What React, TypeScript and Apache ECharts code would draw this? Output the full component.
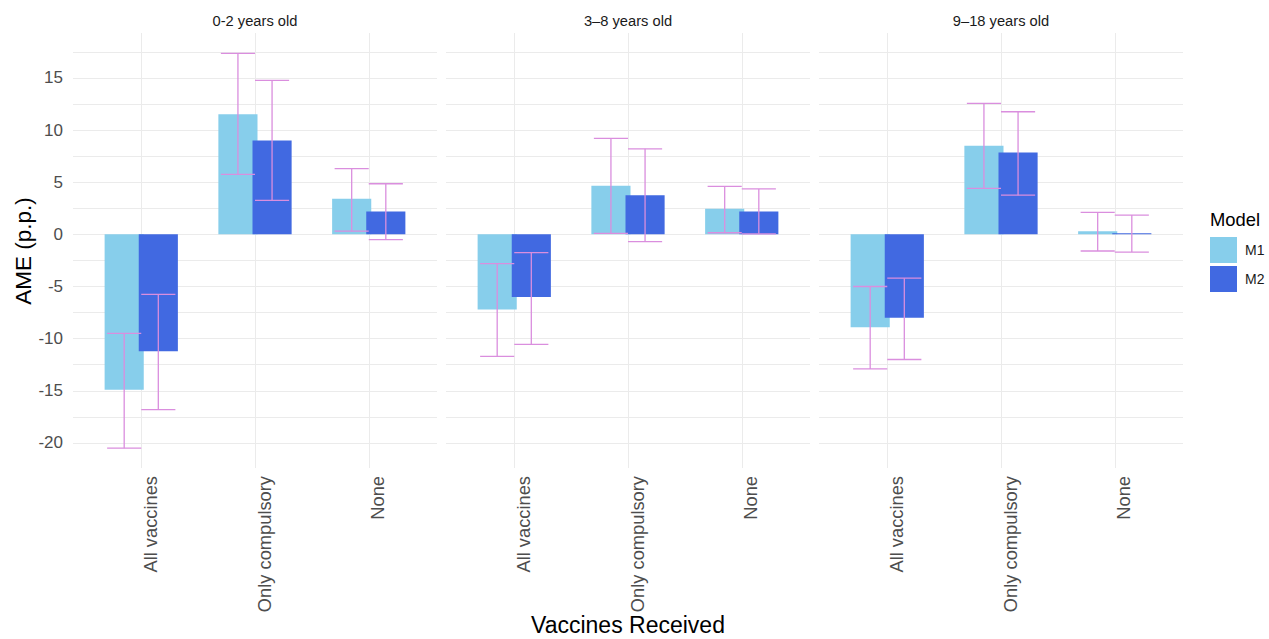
import React, { useEffect, useRef } from 'react';
import * as echarts from 'echarts';

const categories = ['All vaccines', 'Only compulsory', 'None'];
const ageGroups = ['0-2 years old', '3–8 years old', '9–18 years old'];
const models = ['M1', 'M2'];

// per age group: [All vaccines, Only compulsory, None]
const m1Values = [[-14.9, 11.5, 3.4], [-7.2, 4.65, 2.45], [-8.9, 8.5, 0.3]];
const m1Lower = [[-20.5, 5.75, 0.3], [-11.7, 0.1, 0.15], [-12.9, 4.4, -1.6]];
const m1Upper = [[-9.5, 17.35, 6.3], [-2.8, 9.2, 4.6], [-5.0, 12.55, 2.1]];
const m2Values = [[-11.2, 9.0, 2.2], [-6.0, 3.75, 2.2], [-8.0, 7.85, 0.1]];
const m2Lower = [[-16.8, 3.25, -0.5], [-10.55, -0.7, 0.05], [-12.0, 3.75, -1.7]];
const m2Upper = [[-5.75, 14.75, 4.85], [-1.75, 8.2, 4.35], [-4.2, 11.75, 1.85]];

const yLabelValues = [-20, -15, -10, -5, 0, 5, 10, 15];
const yGridValues = [-20, -17.5, -15, -12.5, -10, -7.5, -5, -2.5, 0, 2.5, 5, 7.5, 10, 12.5, 15, 17.5];
const xPositions = [0, 1, 2];

const Y_MIN = -22.4;
const Y_MAX = 19.3;

const COLORS = { M1: '#87CEEB', M2: '#4169E1', err: '#DA8EDE', grid: '#EBEBEB' };
const FONT = '"Liberation Sans", Arial, sans-serif';

const panelLefts = [73, 446, 819];
const PANEL_W = 364;
const PANEL_TOP = 33;
const PANEL_H = 435;

const BAR_HALF = 0.172;
const DODGE = 0.15;
const CAP_HALF = 0.15;

function barRender(offset: number, color: string) {
  return (params: any, api: any) => {
    const x = api.value(0);
    const v = api.value(1);
    const p0 = api.coord([x + offset - BAR_HALF, 0]);
    const p1 = api.coord([x + offset + BAR_HALF, v]);
    return {
      type: 'rect',
      shape: {
        x: p0[0],
        y: Math.min(p0[1], p1[1]),
        width: p1[0] - p0[0],
        height: Math.max(Math.abs(p1[1] - p0[1]), 1),
      },
      style: { fill: color },
    };
  };
}

function errRender(offset: number) {
  return (params: any, api: any) => {
    const x = api.value(0) + offset;
    const lo = api.coord([x, api.value(1)]);
    const hi = api.coord([x, api.value(2)]);
    const l = api.coord([x - CAP_HALF, 0])[0];
    const r = api.coord([x + CAP_HALF, 0])[0];
    const style = { stroke: COLORS.err, lineWidth: 1.3 };
    return {
      type: 'group',
      children: [
        { type: 'line', shape: { x1: lo[0], y1: lo[1], x2: hi[0], y2: hi[1] }, style },
        { type: 'line', shape: { x1: l, y1: lo[1], x2: r, y2: lo[1] }, style },
        { type: 'line', shape: { x1: l, y1: hi[1], x2: r, y2: hi[1] }, style },
      ],
    };
  };
}

export default function App() {
  const ref = useRef<HTMLDivElement>(null);

  useEffect(() => {
    if (!ref.current) return;
    const chart = echarts.init(ref.current, null, { renderer: 'svg' });

    const grids = panelLefts.map((left) => ({
      left,
      top: PANEL_TOP,
      width: PANEL_W,
      height: PANEL_H,
      containLabel: false,
    }));

    const xAxes = panelLefts.map((_, p) => ({
      type: 'value',
      gridIndex: p,
      min: -0.6,
      max: 2.6,
      axisLine: { show: false },
      axisTick: { show: false, customValues: xPositions },
      splitLine: { show: true, lineStyle: { color: COLORS.grid, width: 1 } },
      axisLabel: {
        customValues: xPositions,
        formatter: (v: number) => categories[Math.round(v)] ?? '',
        rotate: 90,
        margin: 8,
        fontSize: 18.3,
        color: '#4D4D4D',
        fontFamily: FONT,
        verticalAlign: 'top',
      },
    }));

    const yAxes = panelLefts.map((_, p) => ({
      type: 'value',
      gridIndex: p,
      min: Y_MIN,
      max: Y_MAX,
      axisLine: { show: false },
      axisTick: { show: false, customValues: yGridValues },
      splitLine: { show: true, lineStyle: { color: COLORS.grid, width: 1 } },
      axisLabel: {
        show: p === 0,
        customValues: yLabelValues,
        margin: 10,
        fontSize: 17,
        color: '#4D4D4D',
        fontFamily: FONT,
      },
    }));

    const series: any[] = [];
    ageGroups.forEach((_, p) => {
      series.push({
        type: 'custom',
        name: 'M1',
        xAxisIndex: p,
        yAxisIndex: p,
        itemStyle: { color: COLORS.M1 },
        renderItem: barRender(-DODGE, COLORS.M1),
        data: categories.map((_, i) => [i, m1Values[p][i]]),
        z: 2,
      });
      series.push({
        type: 'custom',
        name: 'M2',
        xAxisIndex: p,
        yAxisIndex: p,
        itemStyle: { color: COLORS.M2 },
        renderItem: barRender(DODGE, COLORS.M2),
        data: categories.map((_, i) => [i, m2Values[p][i]]),
        z: 3,
      });
      series.push({
        type: 'custom',
        name: 'errM1',
        xAxisIndex: p,
        yAxisIndex: p,
        renderItem: errRender(-DODGE),
        data: categories.map((_, i) => [i, m1Lower[p][i], m1Upper[p][i]]),
        z: 4,
      });
      series.push({
        type: 'custom',
        name: 'errM2',
        xAxisIndex: p,
        yAxisIndex: p,
        renderItem: errRender(DODGE),
        data: categories.map((_, i) => [i, m2Lower[p][i], m2Upper[p][i]]),
        z: 4,
      });
    });

    const graphics: any[] = ageGroups.map((g, p) => ({
      type: 'text',
      x: panelLefts[p] + PANEL_W / 2,
      y: 21,
      style: {
        text: g,
        fontSize: 14.7,
        fontFamily: FONT,
        fill: '#1A1A1A',
        textAlign: 'center',
        textVerticalAlign: 'middle',
      },
    }));
    graphics.push({
      type: 'text',
      x: 23,
      y: 251,
      rotation: Math.PI / 2,
      style: {
        text: 'AME (p.p.)',
        fontSize: 22.5,
        fontFamily: FONT,
        fill: '#000000',
        textAlign: 'center',
        textVerticalAlign: 'middle',
      },
    });
    graphics.push({
      type: 'text',
      x: panelLefts[1] + PANEL_W / 2,
      y: 625,
      style: {
        text: 'Vaccines Received',
        fontSize: 23,
        fontFamily: FONT,
        fill: '#000000',
        textAlign: 'center',
        textVerticalAlign: 'middle',
      },
    });
    graphics.push({
      type: 'text',
      x: 1210,
      y: 219,
      style: {
        text: 'Model',
        fontSize: 18.4,
        fontFamily: FONT,
        fill: '#000000',
        textAlign: 'left',
        textVerticalAlign: 'middle',
      },
    });

    chart.setOption({
      animation: false,
      backgroundColor: '#FFFFFF',
      grid: grids,
      xAxis: xAxes,
      yAxis: yAxes,
      legend: {
        data: models,
        orient: 'vertical',
        left: 1210,
        top: 237,
        padding: 0,
        itemWidth: 27,
        itemHeight: 26,
        itemGap: 3,
        icon: 'rect',
        selectedMode: false,
        textStyle: { fontSize: 14, color: '#1A1A1A', fontFamily: FONT, padding: [0, 0, 0, 3] },
      },
      graphic: graphics,
      series,
    });

    return () => chart.dispose();
  }, []);

  return (
    <div
      ref={ref}
      style={{ position: 'fixed', left: 0, top: 0, width: 1269, height: 639 }}
    />
  );
}
